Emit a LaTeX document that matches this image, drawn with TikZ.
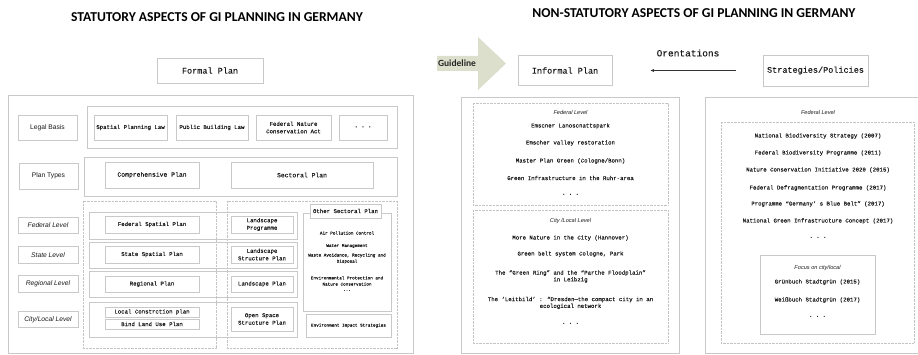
\documentclass[tikz,border=0pt]{standalone}
\usepackage{fontspec}
\usetikzlibrary{arrows.meta}
\newfontfamily\monofnt{Liberation Mono}[FakeBold=0.08]
\newfontfamily\sansfnt{Liberation Sans}
\newfontfamily\headfnt{Carlito}
\definecolor{linegray}{HTML}{C9C9C9}
\definecolor{dotgray}{HTML}{C4C4C4}
\definecolor{txtgray}{HTML}{1A1A1A}
\definecolor{guidefill}{HTML}{DCDFCB}
\newcommand{\fsz}[2]{\fontsize{#1}{#2}\selectfont}

\begin{document}
\begin{tikzpicture}[x=1pt,y=-1pt,
  frame/.style={draw=linegray,line width=0.6pt},
  dotframe/.style={draw=dotgray,line width=0.5pt,dash pattern=on 0.7pt off 0.7pt},
  planbox/.style={draw=linegray,line width=0.6pt,fill=white,inner sep=0.5pt,align=center,text=txtgray,font=\monofnt\fsz{5.7}{7.5}},
  lvlbox/.style={planbox,font=\sansfnt\itshape\fsz{6.7}{8}},
  item/.style={inner sep=0pt,align=center,text=txtgray,font=\monofnt\fsz{5.7}{6.8}},
  smallitem/.style={item,font=\monofnt\fsz{4.3}{6.2}},
  lvltxt/.style={item,font=\sansfnt\itshape\fsz{5.6}{7}},
  head/.style={font=\headfnt\bfseries\fsz{13.6}{15},text=black}]
    \clip (0,0) rectangle (918,355);

    % Titles
    \node[head] (stattitle) at (217,17) {STATUTORY ASPECTS OF GI PLANNING IN GERMANY};
    \node[head] (nonstattitle) at (694,13) {NON-STATUTORY ASPECTS OF GI PLANNING IN GERMANY};

    % Formal plan
    \node[planbox,font=\monofnt\fsz{8.5}{10},minimum width=106pt,minimum height=25pt] (formal) at (210,70.5) {Formal Plan};
    \draw[frame] (8,95) rectangle (413,353.5);

    % Legal basis
    \draw[frame] (87,106) rectangle (397,148);
    \node[lvlbox,font=\sansfnt\fsz{6.7}{8},minimum width=59pt,minimum height=25pt] (legal) at (47.5,127.5) {Legal Basis};
    \node[planbox,minimum width=73pt,minimum height=25pt] (spatlaw) at (130.5,127.5) {Spatial Planning Law};
    \node[planbox,minimum width=72pt,minimum height=25pt] (buildlaw) at (212,127.5) {Public Building Law};
    \node[planbox,minimum width=75pt,minimum height=25pt] (natlaw) at (293.5,127.5) {Federal Nature\\Conservation Act};
    \node[planbox,minimum width=48pt,minimum height=25pt] (morelaw) at (363,127.5) {\bfseries · · ·};

    % Plan types
    \draw[frame] (84,157) rectangle (397,196);
    \node[lvlbox,font=\sansfnt\fsz{6.7}{8},minimum width=59pt,minimum height=26pt] (types) at (48.5,176) {Plan Types};
    \node[planbox,font=\monofnt\fsz{6.4}{7.5},minimum width=94pt,minimum height=26pt] (compplan) at (152,175) {Comprehensive Plan};
    \node[planbox,font=\monofnt\fsz{6.4}{7.5},minimum width=142pt,minimum height=26pt] (sectplan) at (302,175) {Sectoral Plan};

    % Columns and level rows
    \draw[dotframe] (83,201) rectangle (216,348);
    \draw[dotframe] (227,201) rectangle (397,348);
    \foreach \ya/\yb in {212/239,242/268,271/297,302/337}
        \draw[frame] (89,\ya) rectangle (297,\yb);

    % Level labels
    \node[lvlbox,minimum width=60pt,minimum height=16.5pt] (fedlvl) at (48,225.5) {Federal Level};
    \node[lvlbox,minimum width=60pt,minimum height=16.5pt] (statelvl) at (48,255) {State Level};
    \node[lvlbox,minimum width=60pt,minimum height=16.5pt] (reglvl) at (48,284) {Regional Level};
    \node[lvlbox,minimum width=60pt,minimum height=16.5pt] (citylvl) at (48,319.5) {City/Local Level};

    % Spatial plans
    \node[planbox,minimum width=94pt,minimum height=17pt] (fedspat) at (152,224.5) {Federal Spatial Plan};
    \node[planbox,minimum width=94pt,minimum height=17pt] (statespat) at (152,254.5) {State Spatial Plan};
    \node[planbox,minimum width=94pt,minimum height=16pt] (regplan) at (152,284) {Regional Plan};
    \node[planbox,minimum width=94pt,minimum height=10pt] (localplan) at (152,312) {Local Constrction plan};
    \node[planbox,minimum width=94pt,minimum height=10pt] (landuse) at (152,324) {Bind Land Use Plan};

    % Landscape plans
    \node[planbox,minimum width=62pt,minimum height=17pt] (landprog) at (262,224.5) {Landscape\\Programme};
    \node[planbox,minimum width=62pt,minimum height=17pt] (landstruct) at (262,254.5) {Landscape\\Structure Plan};
    \node[planbox,minimum width=62pt,minimum height=16pt] (landplan) at (262,284) {Landscape Plan};
    \node[planbox,minimum width=62pt,minimum height=24pt] (openspace) at (262,319) {Open Space\\Structure Plan};

    % Other sectoral plans
    \draw[frame] (303,213) rectangle (391,311);
    \node[planbox,minimum width=71pt,minimum height=14pt] (othersect) at (345.5,211) {Other Sectoral Plan};
    \node[smallitem] (airctl) at (347,233) {Air Pollution Control};
    \node[smallitem] (water) at (347,246) {Water Management};
    \node[smallitem] (waste) at (347,258.5) {Waste Avoidance, Recycling and\\Disposal};
    \node[smallitem] (envprot) at (347,284) {Environmental Protection and\\Nature Conservation\\···};
    \node[planbox,font=\monofnt\fsz{4.3}{6},minimum width=85pt,minimum height=23pt] (envimpact) at (348.5,325.5) {Environment Impact Strategies};

    % Guideline arrow
    \fill[guidefill] (437,56) -- (478,56) -- (478,37) -- (506,63.5) -- (478,90) -- (478,71) -- (437,71) -- cycle;
    \node[font=\headfnt\bfseries\fsz{9.5}{10},text=black!85] (guide) at (457,63.5) {Guideline};

    % Informal plan and strategies
    \node[planbox,font=\monofnt\fsz{8.5}{10},minimum width=94pt,minimum height=30pt] (informal) at (565,70.5) {Informal Plan};
    \node[planbox,font=\monofnt\fsz{8.5}{10},minimum width=105pt,minimum height=31pt] (strat) at (815.5,70.5) {Strategies/Policies};
    \draw[-{Latex[length=3.5pt,width=3pt]},line width=0.6pt,black!80,shorten <=27pt,shorten >=38pt] (strat.west) -- (informal.east);
    \node[item,font=\monofnt\fsz{9.5}{10}] (orient) at (688,53) {Orentations};

    % Informal plan, federal level
    \draw[frame] (461,97) rectangle (679,353.5);
    \draw[dotframe] (473,103) rectangle (668,205);
    \node[lvltxt] (infed) at (570.5,113) {Federal Level};
    \node[item] (emspark) at (570.5,126) {Emscner Lanoscnattspark};
    \node[item] (emsvalley) at (570.5,143) {Emscher valley restoration};
    \node[item] (masterplan) at (570.5,161) {Master Plan Green (Cologne/Bonn)};
    \node[item] (ruhr) at (570.5,178) {Green Infrastructure in the Ruhr-area};
    \node[item,font=\monofnt\bfseries\fsz{5.7}{6.8}] (infeddots) at (570.5,195) {· · ·};

    % Informal plan, city level
    \draw[dotframe] (473,210) rectangle (668,343);
    \node[lvltxt] (incity) at (570.5,221) {City /Local Level};
    \node[item] (hannover) at (570.5,238) {More Nature in the City (Hannover)};
    \node[item] (greenbelt) at (570.5,254) {Green belt system Cologne, Park};
    \node[item] (greenring) at (570.5,276.5) {The “Green Ring” and the “Parthe Floodplain”\\in Leibzig};
    \node[item] (leitbild) at (570.5,303) {The ‘Leitbild’ : “Dresden—the compact city in an\\ecological network};
    \node[item,font=\monofnt\bfseries\fsz{5.7}{6.8}] (incitydots) at (570.5,324) {· · ·};

    % Strategies, federal level
    \draw[frame] (705,97) rectangle (930,353);
    \node[lvltxt] (stfed) at (818,113) {Federal Level};
    \draw[dotframe] (721,122) rectangle (914,343);
    \node[item] (biostrat) at (818,136) {National Biodiversity Strategy (2007)};
    \node[item] (bioprog) at (818,153) {Federal Biodiversity Programme (2011)};
    \node[item] (natcons) at (818,170) {Nature Conservation Initiative 2020 (2015)};
    \node[item] (defrag) at (818,188) {Federal Defragmentation Programme (2017)};
    \node[item] (bluebelt) at (818,204) {Programme “Germany’ s Blue Belt” (2017)};
    \node[item] (gicon) at (818,221) {National Green Infrastructure Concept (2017)};
    \node[item,font=\monofnt\bfseries\fsz{5.7}{6.8}] (stfeddots) at (818,238) {· · ·};

    % Strategies, focus on city/local
    \draw[frame] (760,255) rectangle (875,334);
    \node[lvltxt] (stcity) at (817.5,268) {Focus on city/local};
    \node[item] (gruenbuch) at (817.5,282) {Grünbuch Stadtgrün (2015)};
    \node[item] (weissbuch) at (817.5,300) {Weißbuch Stadtgrün (2017)};
    \node[item,font=\monofnt\bfseries\fsz{5.7}{6.8}] (stcitydots) at (817.5,317) {· · ·};
\end{tikzpicture}
\end{document}
